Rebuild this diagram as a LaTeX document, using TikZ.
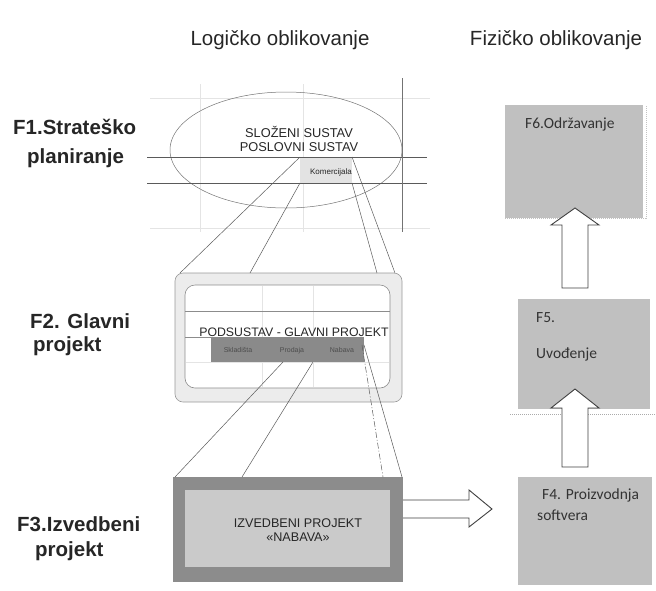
\documentclass[tikz,border=0pt]{standalone}
\usepackage{fontspec}
\setmainfont{Liberation Sans}
\newfontfamily\calfont{Carlito}
\usetikzlibrary{shapes.geometric,calc}
\definecolor{boxgray}{RGB}{192,192,192}
\definecolor{darkbord}{RGB}{140,140,140}
\definecolor{innergray}{RGB}{202,202,202}
\definecolor{bargray}{RGB}{138,138,138}
\definecolor{midfill}{RGB}{236,236,236}
\definecolor{linegray}{RGB}{90,90,90}
\definecolor{faint}{RGB}{228,228,228}
\begin{document}
\begin{tikzpicture}[x=1pt,y=-1pt,
  rect/.style={inner sep=0pt,outer sep=0pt,anchor=north west},
  fbox/.style={rect,fill=boxgray},
  thin/.style={draw=linegray,line width=0.5pt},
  blockarrow/.style={fill=white,draw=black!75,line width=0.9pt,line join=miter},
  lbl/.style={font=\fontsize{20.5}{24}\selectfont\bfseries,anchor=base west,inner sep=0pt,text=black!85},
  ttl/.style={font=\fontsize{20.5}{24}\selectfont,anchor=base,inner sep=0pt,text=black!85},
  ftxt/.style={font=\calfont\fontsize{15.5}{18}\selectfont,anchor=base west,inner sep=0pt,text=black!80}]
\useasboundingbox (0,0) rectangle (656,590);

% titles
\node[ttl] (t1) at (280,45) {Logičko oblikovanje};
\node[ttl] (t2) at (556,45) {Fizičko oblikovanje};

% left labels
\node[lbl] (l1a) at (13,134) {F1.Strateško};
\node[lbl] (l1b) at (27,163) {planiranje};
\node[lbl] (l2a) at (30,328) {F2. Glavni};
\node[lbl] (l2b) at (33,351) {projekt};
\node[lbl] (l3a) at (17,531) {F3.Izvedbeni};
\node[lbl] (l3b) at (35,556) {projekt};

% faint grid in top area
\draw[faint,line width=0.4pt] (150,98) -- (430,98);
\draw[faint,line width=0.4pt] (200,84) -- (200,232);
\draw[faint,line width=0.4pt] (303,84) -- (303,232);
\draw[faint,line width=0.4pt] (150,228) -- (430,228);

% F1 : ellipse
\node[rect,fill=boxgray!45] (kom) at (300,157) [minimum width=52pt,minimum height=26pt] {};
\node[ellipse,draw=black!55,line width=0.5pt,minimum width=232pt,minimum height=116pt,inner sep=0pt] (ell) at (286,150) {};
\draw[thin] (147,157) -- (427,157);
\draw[thin] (147,183) -- (427,183);
\draw[draw=black!55,line width=0.6pt] (402,78) -- (402,232);
\node[font=\fontsize{12.8}{15}\selectfont,align=center,inner sep=0pt,text=black!85] (etxt) at (299,139) {SLOŽENI SUSTAV\\[-1.5pt]POSLOVNI SUSTAV};
\node[font=\fontsize{8}{9}\selectfont,inner sep=0pt,anchor=base,text=black!85] (komt) at (331,174) {Komercijala};

% F2 : middle box
\node[rect,fill=midfill,draw=black!40,line width=0.6pt,rounded corners=8pt,minimum width=227pt,minimum height=129pt] (mid) at (175,273) {};
\node[rect,fill=white,draw=black!45,line width=0.6pt,rounded corners=10pt,minimum width=205pt,minimum height=103pt] (midin) at (185,285) {};
\draw[faint,line width=0.4pt] (262,286) -- (262,387);
\draw[faint,line width=0.4pt] (313,286) -- (313,387);
\draw[faint,line width=0.4pt] (186,362) -- (389,362);
\draw[draw=black!45,line width=0.5pt] (midin.west |- 0,311) -- (midin.east |- 0,311);
\draw[draw=black!45,line width=0.5pt] (midin.west |- 0,337) -- (211,337);
\node[rect,fill=bargray,minimum width=153pt,minimum height=25pt] (bar) at (211,337) {};
\node[font=\fontsize{12.3}{14}\selectfont,anchor=base,inner sep=0pt,text=black!85] (midt) at (294,336) {PODSUSTAV - GLAVNI PROJEKT};
\node[font=\fontsize{7}{8}\selectfont,anchor=base,inner sep=0pt,text=black!70] (b1) at (238,352) {Skladišta};
\node[font=\fontsize{7}{8}\selectfont,anchor=base,inner sep=0pt,text=black!70] (b2) at (292,352) {Prodaja};
\node[font=\fontsize{7}{8}\selectfont,anchor=base,inner sep=0pt,text=black!70] (b3) at (342,352) {Nabava};

% F3 : bottom box
\node[rect,fill=darkbord,minimum width=230pt,minimum height=105pt] (bot) at (173,477) {};
\node[rect,fill=innergray,minimum width=205pt,minimum height=77pt] (botin) at (185,490) {};
\node[font=\fontsize{12.6}{15}\selectfont,align=center,inner sep=0pt,text=black!85] (bott) at (298,530) {IZVEDBENI PROJEKT\\[-1pt]«NABAVA»};

% zoom connectors F1 -> F2
\draw[thin] (kom.north west) -- ($(mid.north west)+(5,0)$);
\draw[thin] (kom.south west) -- ($(mid.north west)+(75,0)$);
\draw[thin] (kom.north east) -- ($(mid.north east)+(-7,0)$);
\draw[thin] (kom.south east) -- ($(mid.north east)+(-25,0)$);

% zoom connectors F2 -> F3
\draw[thin] ($(bar.south west)+(72,0)$) -- ($(bot.north west)+(2,0)$);
\draw[thin] ($(bar.south west)+(102,0)$) -- ($(bot.north west)+(69,0)$);
\draw[thin] ($(bar.north east)+(0,8)$) -- ($(bot.north east)+(-1,0)$);
\draw[thin,dash pattern=on 6pt off 2pt on 1pt off 2pt] ($(bar.north east)+(-2,8)$) -- ($(bot.north east)+(-20,0)$);

% right column boxes
\node[fbox,minimum width=138pt,minimum height=113pt] (f6) at (505,105) {};
\node[fbox,minimum width=132pt,minimum height=110pt] (f5) at (518,299) {};
\node[fbox,minimum width=134pt,minimum height=108pt] (f4) at (518,477) {};
\draw[faint!85!black,line width=0.6pt,dash pattern=on 1pt off 1pt] (f6.south west) -- ($(f6.south east)+(3,0)$) -- ($(f6.north east)+(3,0)$);
\draw[faint!75!black,line width=0.6pt,dash pattern=on 1pt off 1pt] ($(f5.south west)+(-8,5)$) -- ($(f5.south east)+(6,5)$);

\node[ftxt] (f6t) at (525,128) {F6.Održavanje};
\node[ftxt] (f5t1) at (536,322) {F5.};
\node[ftxt] (f5t2) at (536,358) {Uvođenje};
\node[ftxt] (f4t1) at (542,499) {F4. Proizvodnja};
\node[ftxt] (f4t2) at (537,520) {softvera};

% block arrows
\draw[blockarrow] (562,288) -- (562,225) -- (551,225) -- (575,208) -- (599,225) -- (588,225) -- (588,288) -- cycle;
\draw[blockarrow] (562,467) -- (562,408) -- (551,408) -- (575,389) -- (599,408) -- (588,408) -- (588,467) -- cycle;
\filldraw[blockarrow] (bot.east |- 0,500) -- (469,500) -- (469,490) -- (492,509) -- (469,527) -- (469,518) -- (bot.east |- 0,518);
\end{tikzpicture}
\end{document}
